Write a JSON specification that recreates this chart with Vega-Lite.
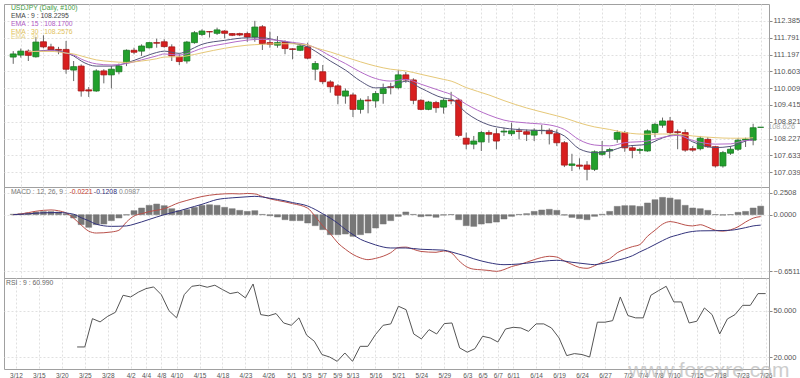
{
  "$schema": "https://vega.github.io/schema/vega-lite/v6.json",
  "padding": {"left": 3, "top": 3, "right": 0, "bottom": 0},
  "background": "white",
  "spacing": 0,
  "bounds": "flush",
  "resolve": {"scale": {"color": "independent"}},
  "config": {
    "view": {"stroke": "#a0a0a0", "strokeWidth": 1},
    "axis": {"gridColor": "#e0e0e0", "gridDash": [2, 2], "labelFont": "Liberation Sans", "labelColor": "#555555", "tickColor": "#888888", "domain": false, "labelOverlap": false, "labelFlush": false, "labelBound": false},
    "text": {"font": "Liberation Sans"}
  },
  "datasets": {
    "candles": [
      {"k":0,"o":111.11,"h":111.32,"l":110.87,"c":111.22},
      {"k":1,"o":111.18,"h":111.41,"l":111.09,"c":111.32},
      {"k":2,"o":111.32,"h":111.38,"l":110.97,"c":111.17},
      {"k":3,"o":111.12,"h":111.82,"l":111.09,"c":111.64},
      {"k":4,"o":111.65,"h":111.88,"l":111.42,"c":111.47},
      {"k":5,"o":111.47,"h":111.58,"l":111.30,"c":111.36},
      {"k":6,"o":111.38,"h":111.47,"l":111.21,"c":111.35},
      {"k":7,"o":111.38,"h":111.68,"l":110.52,"c":110.68},
      {"k":8,"o":110.65,"h":110.97,"l":110.26,"c":110.77},
      {"k":9,"o":110.79,"h":110.85,"l":109.71,"c":109.91},
      {"k":10,"o":109.95,"h":110.05,"l":109.70,"c":109.91},
      {"k":11,"o":109.91,"h":110.68,"l":109.88,"c":110.62},
      {"k":12,"o":110.62,"h":110.68,"l":110.18,"c":110.48},
      {"k":13,"o":110.48,"h":110.79,"l":110.00,"c":110.68},
      {"k":14,"o":110.59,"h":110.88,"l":110.50,"c":110.79},
      {"k":15,"o":110.91,"h":111.38,"l":110.79,"c":111.35},
      {"k":16,"o":111.35,"h":111.44,"l":111.21,"c":111.28},
      {"k":17,"o":111.32,"h":111.56,"l":111.15,"c":111.50},
      {"k":18,"o":111.44,"h":111.64,"l":111.41,"c":111.62},
      {"k":19,"o":111.62,"h":111.76,"l":111.44,"c":111.60},
      {"k":20,"o":111.65,"h":111.74,"l":111.44,"c":111.48},
      {"k":21,"o":111.47,"h":111.56,"l":110.97,"c":111.15},
      {"k":22,"o":111.11,"h":111.21,"l":110.83,"c":110.95},
      {"k":23,"o":110.97,"h":111.68,"l":110.88,"c":111.64},
      {"k":24,"o":111.62,"h":112.03,"l":111.58,"c":111.97},
      {"k":25,"o":111.91,"h":112.09,"l":111.85,"c":112.03},
      {"k":26,"o":112.01,"h":112.03,"l":111.80,"c":112.00},
      {"k":27,"o":111.95,"h":112.15,"l":111.89,"c":112.07},
      {"k":28,"o":112.03,"h":112.06,"l":111.77,"c":111.95},
      {"k":29,"o":111.94,"h":111.96,"l":111.85,"c":111.88},
      {"k":30,"o":111.94,"h":111.97,"l":111.85,"c":111.89},
      {"k":31,"o":111.94,"h":112.01,"l":111.65,"c":111.82},
      {"k":32,"o":111.82,"h":112.39,"l":111.65,"c":112.17},
      {"k":33,"o":112.18,"h":112.24,"l":111.36,"c":111.58},
      {"k":34,"o":111.62,"h":112.01,"l":111.44,"c":111.56},
      {"k":35,"o":111.53,"h":111.85,"l":111.44,"c":111.62},
      {"k":36,"o":111.64,"h":111.70,"l":111.21,"c":111.41},
      {"k":37,"o":111.40,"h":111.42,"l":111.03,"c":111.38},
      {"k":38,"o":111.35,"h":111.56,"l":111.32,"c":111.50},
      {"k":39,"o":111.47,"h":111.62,"l":111.03,"c":111.07},
      {"k":40,"o":110.68,"h":110.97,"l":110.29,"c":110.88},
      {"k":41,"o":110.59,"h":110.83,"l":110.15,"c":110.24},
      {"k":42,"o":110.23,"h":110.29,"l":109.85,"c":110.06},
      {"k":43,"o":110.09,"h":110.15,"l":109.44,"c":109.76},
      {"k":44,"o":109.73,"h":110.00,"l":109.46,"c":109.91},
      {"k":45,"o":109.77,"h":109.85,"l":108.99,"c":109.26},
      {"k":46,"o":109.26,"h":109.65,"l":109.11,"c":109.58},
      {"k":47,"o":109.59,"h":109.73,"l":109.12,"c":109.56},
      {"k":48,"o":109.56,"h":109.91,"l":109.32,"c":109.82},
      {"k":49,"o":109.82,"h":110.17,"l":109.46,"c":109.99},
      {"k":50,"o":110.06,"h":110.20,"l":109.79,"c":110.03},
      {"k":51,"o":110.03,"h":110.65,"l":109.97,"c":110.48},
      {"k":52,"o":110.48,"h":110.58,"l":110.20,"c":110.30},
      {"k":53,"o":110.30,"h":110.36,"l":109.44,"c":109.58},
      {"k":54,"o":109.58,"h":109.62,"l":109.23,"c":109.26},
      {"k":55,"o":109.26,"h":109.56,"l":109.23,"c":109.52},
      {"k":56,"o":109.50,"h":109.56,"l":109.14,"c":109.32},
      {"k":57,"o":109.34,"h":109.65,"l":109.11,"c":109.58},
      {"k":58,"o":109.59,"h":109.88,"l":109.44,"c":109.56},
      {"k":59,"o":109.59,"h":109.65,"l":108.28,"c":108.34},
      {"k":60,"o":108.24,"h":108.44,"l":107.85,"c":108.03},
      {"k":61,"o":108.03,"h":108.32,"l":107.85,"c":108.14},
      {"k":62,"o":108.11,"h":108.50,"l":107.79,"c":108.44},
      {"k":63,"o":108.44,"h":108.52,"l":108.08,"c":108.38},
      {"k":64,"o":108.40,"h":108.59,"l":107.85,"c":108.14},
      {"k":65,"o":108.46,"h":108.61,"l":108.32,"c":108.49},
      {"k":66,"o":108.40,"h":108.79,"l":108.32,"c":108.50},
      {"k":67,"o":108.50,"h":108.61,"l":108.20,"c":108.48},
      {"k":68,"o":108.47,"h":108.55,"l":108.14,"c":108.38},
      {"k":69,"o":108.35,"h":108.59,"l":108.14,"c":108.52},
      {"k":70,"o":108.51,"h":108.71,"l":108.38,"c":108.52},
      {"k":71,"o":108.52,"h":108.59,"l":108.02,"c":108.40},
      {"k":72,"o":108.40,"h":108.55,"l":107.96,"c":108.08},
      {"k":73,"o":108.08,"h":108.14,"l":107.22,"c":107.29},
      {"k":74,"o":107.28,"h":107.69,"l":107.08,"c":107.33},
      {"k":75,"o":107.29,"h":107.53,"l":107.14,"c":107.25},
      {"k":76,"o":107.29,"h":107.43,"l":106.75,"c":107.14},
      {"k":77,"o":107.14,"h":107.81,"l":107.08,"c":107.76},
      {"k":78,"o":107.67,"h":108.14,"l":107.61,"c":107.76},
      {"k":79,"o":107.79,"h":107.90,"l":107.53,"c":107.84},
      {"k":80,"o":108.20,"h":108.52,"l":108.08,"c":108.44},
      {"k":81,"o":108.44,"h":108.50,"l":107.76,"c":107.90},
      {"k":82,"o":107.90,"h":107.96,"l":107.53,"c":107.81},
      {"k":83,"o":107.81,"h":107.90,"l":107.69,"c":107.84},
      {"k":84,"o":107.79,"h":108.55,"l":107.76,"c":108.50},
      {"k":85,"o":108.44,"h":108.79,"l":108.28,"c":108.73},
      {"k":86,"o":108.70,"h":108.97,"l":108.61,"c":108.85},
      {"k":87,"o":108.85,"h":108.99,"l":108.38,"c":108.44},
      {"k":88,"o":108.47,"h":108.55,"l":107.85,"c":108.44},
      {"k":89,"o":108.44,"h":108.55,"l":107.76,"c":107.82},
      {"k":90,"o":107.87,"h":107.96,"l":107.76,"c":107.82},
      {"k":91,"o":107.87,"h":108.32,"l":107.81,"c":108.24},
      {"k":92,"o":108.20,"h":108.28,"l":107.90,"c":107.94},
      {"k":93,"o":107.94,"h":107.96,"l":107.20,"c":107.26},
      {"k":94,"o":107.26,"h":107.79,"l":107.20,"c":107.73},
      {"k":95,"o":107.71,"h":107.96,"l":107.65,"c":107.85},
      {"k":96,"o":107.85,"h":108.24,"l":107.79,"c":108.17},
      {"k":97,"o":108.17,"h":108.26,"l":107.93,"c":108.21},
      {"k":98,"o":108.17,"h":108.75,"l":107.99,"c":108.61},
      {"k":99,"o":108.626,"h":108.63,"l":108.62,"c":108.626}
    ],
    "ema": [
      {"k":2,"s":"e9","v":111.30},{"k":3,"s":"e9","v":111.31},{"k":5,"s":"e9","v":111.36},{"k":7,"s":"e9","v":111.25},{"k":8,"s":"e9","v":111.15},
      {"k":9,"s":"e9","v":110.97},{"k":11,"s":"e9","v":110.79},{"k":13,"s":"e9","v":110.79},{"k":15,"s":"e9","v":110.90},{"k":17,"s":"e9","v":111.09},
      {"k":19,"s":"e9","v":111.27},{"k":20,"s":"e9","v":111.32},{"k":22,"s":"e9","v":111.24},{"k":23,"s":"e9","v":111.32},{"k":25,"s":"e9","v":111.56},
      {"k":28,"s":"e9","v":111.70},{"k":31,"s":"e9","v":111.79},{"k":33,"s":"e9","v":111.79},{"k":35,"s":"e9","v":111.70},{"k":37,"s":"e9","v":111.60},
      {"k":39,"s":"e9","v":111.47},{"k":40,"s":"e9","v":111.32},{"k":42,"s":"e9","v":110.97},{"k":44,"s":"e9","v":110.65},{"k":46,"s":"e9","v":110.26},
      {"k":48,"s":"e9","v":110.02},{"k":50,"s":"e9","v":110.05},{"k":52,"s":"e9","v":110.26},{"k":54,"s":"e9","v":110.01},{"k":57,"s":"e9","v":109.66},
      {"k":58,"s":"e9","v":109.62},{"k":60,"s":"e9","v":109.14},{"k":63,"s":"e9","v":108.71},{"k":65,"s":"e9","v":108.60},{"k":68,"s":"e9","v":108.53},
      {"k":71,"s":"e9","v":108.50},{"k":73,"s":"e9","v":108.32},{"k":75,"s":"e9","v":107.86},{"k":77,"s":"e9","v":107.73},{"k":79,"s":"e9","v":107.79},
      {"k":81,"s":"e9","v":107.95},{"k":84,"s":"e9","v":108.03},{"k":86,"s":"e9","v":108.25},{"k":88,"s":"e9","v":108.38},{"k":90,"s":"e9","v":108.11},
      {"k":93,"s":"e9","v":107.91},{"k":95,"s":"e9","v":107.95},{"k":97,"s":"e9","v":108.14},{"k":98,"s":"e9","v":108.2295},
      {"k":2,"s":"e15","v":111.30},{"k":3,"s":"e15","v":111.31},{"k":5,"s":"e15","v":111.34},{"k":7,"s":"e15","v":111.25},{"k":8,"s":"e15","v":111.18},
      {"k":9,"s":"e15","v":111.04},{"k":11,"s":"e15","v":110.87},{"k":13,"s":"e15","v":110.83},{"k":15,"s":"e15","v":110.88},{"k":17,"s":"e15","v":111.01},
      {"k":19,"s":"e15","v":111.15},{"k":20,"s":"e15","v":111.22},{"k":22,"s":"e15","v":111.18},{"k":23,"s":"e15","v":111.23},{"k":25,"s":"e15","v":111.42},
      {"k":28,"s":"e15","v":111.58},{"k":31,"s":"e15","v":111.71},{"k":33,"s":"e15","v":111.74},{"k":35,"s":"e15","v":111.70},{"k":37,"s":"e15","v":111.63},
      {"k":39,"s":"e15","v":111.54},{"k":40,"s":"e15","v":111.44},{"k":42,"s":"e15","v":111.15},{"k":44,"s":"e15","v":110.88},{"k":46,"s":"e15","v":110.58},
      {"k":48,"s":"e15","v":110.35},{"k":50,"s":"e15","v":110.26},{"k":52,"s":"e15","v":110.32},{"k":54,"s":"e15","v":110.15},{"k":57,"s":"e15","v":109.88},
      {"k":58,"s":"e15","v":109.79},{"k":60,"s":"e15","v":109.44},{"k":63,"s":"e15","v":109.06},{"k":65,"s":"e15","v":108.88},{"k":68,"s":"e15","v":108.78},
      {"k":71,"s":"e15","v":108.71},{"k":73,"s":"e15","v":108.55},{"k":75,"s":"e15","v":108.18},{"k":77,"s":"e15","v":108.00},{"k":79,"s":"e15","v":107.97},
      {"k":81,"s":"e15","v":108.08},{"k":84,"s":"e15","v":108.14},{"k":86,"s":"e15","v":108.27},{"k":88,"s":"e15","v":108.34},{"k":90,"s":"e15","v":108.16},
      {"k":93,"s":"e15","v":108.03},{"k":95,"s":"e15","v":108.04},{"k":97,"s":"e15","v":108.16},{"k":98,"s":"e15","v":108.17},
      {"k":2,"s":"e30","v":111.30},{"k":3,"s":"e30","v":111.31},{"k":5,"s":"e30","v":111.31},{"k":7,"s":"e30","v":111.25},{"k":8,"s":"e30","v":111.22},
      {"k":9,"s":"e30","v":111.15},{"k":11,"s":"e30","v":111.01},{"k":13,"s":"e30","v":110.95},{"k":15,"s":"e30","v":110.92},{"k":17,"s":"e30","v":110.97},
      {"k":19,"s":"e30","v":111.05},{"k":20,"s":"e30","v":111.11},{"k":22,"s":"e30","v":111.12},{"k":23,"s":"e30","v":111.15},{"k":25,"s":"e30","v":111.26},
      {"k":28,"s":"e30","v":111.42},{"k":31,"s":"e30","v":111.53},{"k":33,"s":"e30","v":111.56},{"k":35,"s":"e30","v":111.58},{"k":37,"s":"e30","v":111.58},
      {"k":39,"s":"e30","v":111.54},{"k":40,"s":"e30","v":111.44},{"k":42,"s":"e30","v":111.29},{"k":44,"s":"e30","v":111.11},{"k":46,"s":"e30","v":110.94},
      {"k":48,"s":"e30","v":110.79},{"k":50,"s":"e30","v":110.68},{"k":52,"s":"e30","v":110.62},{"k":54,"s":"e30","v":110.50},{"k":57,"s":"e30","v":110.32},
      {"k":58,"s":"e30","v":110.26},{"k":60,"s":"e30","v":110.03},{"k":63,"s":"e30","v":109.77},{"k":65,"s":"e30","v":109.57},{"k":68,"s":"e30","v":109.31},
      {"k":71,"s":"e30","v":109.10},{"k":73,"s":"e30","v":108.96},{"k":75,"s":"e30","v":108.78},{"k":77,"s":"e30","v":108.64},{"k":79,"s":"e30","v":108.55},
      {"k":81,"s":"e30","v":108.44},{"k":84,"s":"e30","v":108.38},{"k":86,"s":"e30","v":108.39},{"k":88,"s":"e30","v":108.38},{"k":90,"s":"e30","v":108.32},
      {"k":93,"s":"e30","v":108.26},{"k":95,"s":"e30","v":108.24},{"k":97,"s":"e30","v":108.24},{"k":98,"s":"e30","v":108.2576}
    ],
    "hist": [
      {"k":0,"hv":0.005},{"k":1,"hv":0.01},{"k":2,"hv":0.02},{"k":3,"hv":0.031},{"k":4,"hv":0.035},
      {"k":5,"hv":0.035},{"k":6,"hv":0.03},{"k":7,"hv":0.01},{"k":8,"hv":-0.038},{"k":9,"hv":-0.115},
      {"k":10,"hv":-0.146},{"k":11,"hv":-0.115},{"k":12,"hv":-0.108},{"k":13,"hv":-0.069},{"k":14,"hv":-0.038},
      {"k":15,"hv":-0.004},{"k":16,"hv":0.046},{"k":17,"hv":0.077},{"k":18,"hv":0.108},{"k":19,"hv":0.123},
      {"k":20,"hv":0.104},{"k":21,"hv":0.069},{"k":22,"hv":0.046},{"k":23,"hv":0.058},{"k":24,"hv":0.085},
      {"k":25,"hv":0.108},{"k":26,"hv":0.115},{"k":27,"hv":0.108},{"k":28,"hv":0.085},{"k":29,"hv":0.069},
      {"k":30,"hv":0.05},{"k":31,"hv":0.038},{"k":32,"hv":0.046},{"k":33,"hv":0.003},{"k":34,"hv":-0.012},
      {"k":35,"hv":-0.027},{"k":36,"hv":-0.058},{"k":37,"hv":-0.069},{"k":38,"hv":-0.069},{"k":39,"hv":-0.096},
      {"k":40,"hv":-0.127},{"k":41,"hv":-0.173},{"k":42,"hv":-0.231},{"k":43,"hv":-0.231},{"k":44,"hv":-0.223},
      {"k":45,"hv":-0.25},{"k":46,"hv":-0.231},{"k":47,"hv":-0.212},{"k":48,"hv":-0.154},{"k":49,"hv":-0.108},
      {"k":50,"hv":-0.069},{"k":51,"hv":-0.02},{"k":52,"hv":0.031},{"k":53,"hv":0.003},{"k":54,"hv":-0.023},
      {"k":55,"hv":-0.015},{"k":56,"hv":-0.03},{"k":57,"hv":-0.005},{"k":58,"hv":0.002},{"k":59,"hv":-0.058},
      {"k":60,"hv":-0.127},{"k":61,"hv":-0.135},{"k":62,"hv":-0.108},{"k":63,"hv":-0.096},{"k":64,"hv":-0.085},
      {"k":65,"hv":-0.05},{"k":66,"hv":-0.019},{"k":67,"hv":0.003},{"k":68,"hv":0.012},{"k":69,"hv":0.038},
      {"k":70,"hv":0.054},{"k":71,"hv":0.062},{"k":72,"hv":0.05},{"k":73,"hv":-0.005},{"k":74,"hv":-0.031},
      {"k":75,"hv":-0.046},{"k":76,"hv":-0.058},{"k":77,"hv":-0.019},{"k":78,"hv":0.005},{"k":79,"hv":0.038},
      {"k":80,"hv":0.096},{"k":81,"hv":0.104},{"k":82,"hv":0.104},{"k":83,"hv":0.096},{"k":84,"hv":0.135},
      {"k":85,"hv":0.173},{"k":86,"hv":0.2},{"k":87,"hv":0.192},{"k":88,"hv":0.173},{"k":89,"hv":0.108},
      {"k":90,"hv":0.077},{"k":91,"hv":0.069},{"k":92,"hv":0.05},{"k":93,"hv":0.002},{"k":94,"hv":-0.005},
      {"k":95,"hv":0.002},{"k":96,"hv":0.027},{"k":97,"hv":0.038},{"k":98,"hv":0.077},{"k":99,"hv":0.0987}
    ],
    "macd": [
      {"k":0,"s":"m","v":0},{"k":1,"s":"m","v":0.008},{"k":3,"s":"m","v":0.04},{"k":5,"s":"m","v":0.055},{"k":6,"s":"m","v":0.045},{"k":7,"s":"m","v":0.02},
      {"k":8,"s":"m","v":-0.04},{"k":9,"s":"m","v":-0.12},{"k":10,"s":"m","v":-0.19},{"k":11,"s":"m","v":-0.212},{"k":13,"s":"m","v":-0.2},{"k":14,"s":"m","v":-0.18},
      {"k":15,"s":"m","v":-0.085},{"k":16,"s":"m","v":-0.015},{"k":17,"s":"m","v":0.012},{"k":18,"s":"m","v":0.035},{"k":20,"s":"m","v":0.069},{"k":22,"s":"m","v":0.14},
      {"k":23,"s":"m","v":0.165},{"k":25,"s":"m","v":0.21},{"k":27,"s":"m","v":0.235},{"k":29,"s":"m","v":0.243},{"k":30,"s":"m","v":0.24},{"k":31,"s":"m","v":0.245},
      {"k":32,"s":"m","v":0.24},{"k":33,"s":"m","v":0.21},{"k":34,"s":"m","v":0.183},{"k":36,"s":"m","v":0.148},{"k":37,"s":"m","v":0.128},{"k":39,"s":"m","v":0.075},
      {"k":40,"s":"m","v":-0.02},{"k":41,"s":"m","v":-0.13},{"k":42,"s":"m","v":-0.22},{"k":43,"s":"m","v":-0.327},{"k":44,"s":"m","v":-0.4},{"k":45,"s":"m","v":-0.46},
      {"k":46,"s":"m","v":-0.5},{"k":47,"s":"m","v":-0.52},{"k":48,"s":"m","v":-0.505},{"k":49,"s":"m","v":-0.48},{"k":50,"s":"m","v":-0.44},{"k":51,"s":"m","v":-0.38},
      {"k":52,"s":"m","v":-0.375},{"k":53,"s":"m","v":-0.4},{"k":54,"s":"m","v":-0.425},{"k":56,"s":"m","v":-0.435},{"k":57,"s":"m","v":-0.42},{"k":58,"s":"m","v":-0.44},
      {"k":59,"s":"m","v":-0.53},{"k":60,"s":"m","v":-0.6},{"k":61,"s":"m","v":-0.63},{"k":62,"s":"m","v":-0.637},{"k":63,"s":"m","v":-0.645},{"k":64,"s":"m","v":-0.655},
      {"k":65,"s":"m","v":-0.635},{"k":66,"s":"m","v":-0.6},{"k":67,"s":"m","v":-0.578},{"k":68,"s":"m","v":-0.55},{"k":69,"s":"m","v":-0.52},{"k":70,"s":"m","v":-0.495},
      {"k":71,"s":"m","v":-0.481},{"k":72,"s":"m","v":-0.49},{"k":73,"s":"m","v":-0.535},{"k":74,"s":"m","v":-0.575},{"k":75,"s":"m","v":-0.61},{"k":76,"s":"m","v":-0.62},
      {"k":77,"s":"m","v":-0.59},{"k":78,"s":"m","v":-0.55},{"k":79,"s":"m","v":-0.51},{"k":80,"s":"m","v":-0.44},{"k":81,"s":"m","v":-0.4},{"k":82,"s":"m","v":-0.37},
      {"k":83,"s":"m","v":-0.345},{"k":84,"s":"m","v":-0.25},{"k":85,"s":"m","v":-0.18},{"k":86,"s":"m","v":-0.11},{"k":87,"s":"m","v":-0.08},{"k":88,"s":"m","v":-0.095},
      {"k":89,"s":"m","v":-0.12},{"k":90,"s":"m","v":-0.13},{"k":91,"s":"m","v":-0.116},{"k":92,"s":"m","v":-0.145},{"k":93,"s":"m","v":-0.18},{"k":94,"s":"m","v":-0.19},
      {"k":95,"s":"m","v":-0.175},{"k":96,"s":"m","v":-0.14},{"k":97,"s":"m","v":-0.085},{"k":98,"s":"m","v":-0.04},{"k":99,"s":"m","v":-0.0221},
      {"k":0,"s":"sig","v":0},{"k":2,"s":"sig","v":0.01},{"k":4,"s":"sig","v":0.022},{"k":6,"s":"sig","v":0.025},{"k":8,"s":"sig","v":0.005},{"k":9,"s":"sig","v":-0.035},
      {"k":10,"s":"sig","v":-0.07},{"k":11,"s":"sig","v":-0.11},{"k":13,"s":"sig","v":-0.135},{"k":15,"s":"sig","v":-0.13},{"k":16,"s":"sig","v":-0.11},{"k":18,"s":"sig","v":-0.055},
      {"k":20,"s":"sig","v":0},{"k":22,"s":"sig","v":0.045},{"k":24,"s":"sig","v":0.095},{"k":25,"s":"sig","v":0.12},{"k":27,"s":"sig","v":0.175},{"k":29,"s":"sig","v":0.195},
      {"k":31,"s":"sig","v":0.207},{"k":32,"s":"sig","v":0.212},{"k":34,"s":"sig","v":0.19},{"k":36,"s":"sig","v":0.16},{"k":37,"s":"sig","v":0.14},{"k":39,"s":"sig","v":0.1},
      {"k":40,"s":"sig","v":0.06},{"k":41,"s":"sig","v":0.01},{"k":42,"s":"sig","v":-0.04},{"k":43,"s":"sig","v":-0.1},{"k":44,"s":"sig","v":-0.17},{"k":45,"s":"sig","v":-0.23},
      {"k":46,"s":"sig","v":-0.285},{"k":47,"s":"sig","v":-0.32},{"k":48,"s":"sig","v":-0.35},{"k":50,"s":"sig","v":-0.385},{"k":52,"s":"sig","v":-0.385},{"k":54,"s":"sig","v":-0.4},
      {"k":57,"s":"sig","v":-0.41},{"k":58,"s":"sig","v":-0.43},{"k":59,"s":"sig","v":-0.455},{"k":60,"s":"sig","v":-0.48},{"k":61,"s":"sig","v":-0.51},{"k":62,"s":"sig","v":-0.535},
      {"k":63,"s":"sig","v":-0.555},{"k":65,"s":"sig","v":-0.578},{"k":67,"s":"sig","v":-0.57},{"k":69,"s":"sig","v":-0.55},{"k":70,"s":"sig","v":-0.54},{"k":72,"s":"sig","v":-0.527},
      {"k":74,"s":"sig","v":-0.55},{"k":76,"s":"sig","v":-0.57},{"k":77,"s":"sig","v":-0.578},{"k":78,"s":"sig","v":-0.565},{"k":79,"s":"sig","v":-0.55},{"k":80,"s":"sig","v":-0.53},
      {"k":81,"s":"sig","v":-0.505},{"k":82,"s":"sig","v":-0.475},{"k":83,"s":"sig","v":-0.43},{"k":84,"s":"sig","v":-0.39},{"k":86,"s":"sig","v":-0.3},{"k":87,"s":"sig","v":-0.26},
      {"k":88,"s":"sig","v":-0.235},{"k":89,"s":"sig","v":-0.21},{"k":91,"s":"sig","v":-0.187},{"k":93,"s":"sig","v":-0.185},{"k":95,"s":"sig","v":-0.18},{"k":96,"s":"sig","v":-0.168},
      {"k":97,"s":"sig","v":-0.15},{"k":98,"s":"sig","v":-0.13},{"k":99,"s":"sig","v":-0.1208}
    ],
    "rsi": [
      {"k":9,"r":26.5},{"k":10,"r":26.5},{"k":11,"r":44.8},{"k":12,"r":42.7},{"k":13,"r":46.3},{"k":14,"r":48.9},
      {"k":15,"r":59.9},{"k":16,"r":58.8},{"k":17,"r":61.9},{"k":18,"r":64.2},{"k":19,"r":65.3},{"k":20,"r":60.3},
      {"k":21,"r":50},{"k":22,"r":45.3},{"k":23,"r":60.3},{"k":24,"r":65.7},{"k":25,"r":66.4},{"k":26,"r":65.1},
      {"k":27,"r":66.4},{"k":28,"r":63.6},{"k":29,"r":61},{"k":30,"r":61.9},{"k":31,"r":58.2},{"k":32,"r":67.2},
      {"k":33,"r":47.4},{"k":34,"r":46.6},{"k":35,"r":48.1},{"k":36,"r":42},{"k":37,"r":40.5},{"k":38,"r":45.3},
      {"k":39,"r":34.1},{"k":40,"r":30.2},{"k":41,"r":21.6},{"k":42,"r":20},{"k":43,"r":17.2},{"k":44,"r":22.6},
      {"k":45,"r":17.2},{"k":46,"r":26.9},{"k":47,"r":26.9},{"k":48,"r":34.5},{"k":49,"r":40.5},{"k":50,"r":41.4},
      {"k":51,"r":52.8},{"k":52,"r":50.6},{"k":53,"r":34.9},{"k":54,"r":31.7},{"k":55,"r":37.7},{"k":56,"r":34.9},
      {"k":57,"r":41.6},{"k":58,"r":42},{"k":59,"r":25.9},{"k":60,"r":23.1},{"k":61,"r":25.4},{"k":62,"r":33.4},
      {"k":63,"r":32.3},{"k":64,"r":29.7},{"k":65,"r":38.1},{"k":66,"r":39.2},{"k":67,"r":38.8},{"k":68,"r":36.6},
      {"k":69,"r":41.4},{"k":70,"r":41.4},{"k":71,"r":38.8},{"k":72,"r":32.3},{"k":73,"r":20.9},{"k":74,"r":22.2},
      {"k":75,"r":21.6},{"k":76,"r":20},{"k":77,"r":42.5},{"k":78,"r":42.5},{"k":79,"r":43.5},{"k":80,"r":58.8},
      {"k":81,"r":46.8},{"k":82,"r":45.3},{"k":83,"r":45.3},{"k":84,"r":59.9},{"k":85,"r":62.9},{"k":86,"r":65.7},
      {"k":87,"r":55.6},{"k":88,"r":55.6},{"k":89,"r":42},{"k":90,"r":43.1},{"k":91,"r":51.7},{"k":92,"r":47.4},
      {"k":93,"r":34.9},{"k":94,"r":44.6},{"k":95,"r":47.4},{"k":96,"r":53.4},{"k":97,"r":53.4},{"k":98,"r":60.99},
      {"k":99,"r":60.99}
    ],
    "mainText": [
      {"k":-0.3,"v":112.763,"t":"USDJPY (Daily, #100)","col":"#3f9c3f"},
      {"k":-0.3,"v":112.48,"t":"EMA : 9 : 108.2295","col":"#444444"},
      {"k":-0.3,"v":112.208,"t":"EMA : 15 : 108.1700","col":"#b05ac4"},
      {"k":-0.3,"v":111.936,"t":"EMA : 30 : 108.2576","col":"#e2c15a"},
      {"k":-0.3,"v":111.759,"t":"EMA : 30","col":"#e9d488"}
    ],
    "lastPrice": [{"k":99.44,"v":108.626,"t":"108.626"}],
    "macdText": [
      {"k":-0.3,"v":0.243,"t":"MACD : 12, 26, 9 :","col":"#777777"},
      {"k":7.45,"v":0.243,"t":"-0.0221","col":"#c0392b"},
      {"k":10.68,"v":0.243,"t":"-0.1208","col":"#2e2e7a"},
      {"k":14.0,"v":0.243,"t":"0.0987","col":"#888888"}
    ],
    "rsiText": [
      {"k":-0.3,"v":66.8,"t":"RSI : 9 : 60.990","col":"#666666"}
    ],
    "mark": [{"k":91.6,"v":7.2,"t":"www.forexre.com"}]
  },
  "vconcat": [
    {
      "width": 765,
      "height": 183,
      "encoding": {
        "x": {"field": "k", "type": "quantitative", "title": null, "scale": {"domain": [-0.56, 99.44], "nice": false, "zero": false},
              "axis": {"values": [1,4,7,10,13,16,18,20,22,25,28,31,34,37,39,41,43,45,48,51,54,57,60,62,64,66,69,72,75,78,81,83,85,87,90,93,96,99], "labels": false, "ticks": false, "grid": true, "domain": false, "title": null}}
      },
      "layer": [
        {
          "data": {"name": "candles"},
          "mark": {"type": "rule", "color": "#666666", "strokeWidth": 1},
          "encoding": {
            "y": {"field": "l", "type": "quantitative", "title": null, "scale": {"domain": [106.515, 112.986], "nice": false, "zero": false},
                  "axis": {"orient": "right", "values": [107.039,107.633,108.227,108.821,109.415,110.009,110.603,111.197,111.791,112.385], "format": ".3f", "grid": true, "tickSize": 3, "labelPadding": 1, "labelFontSize": 7.5, "domain": false, "title": null, "labelOverlap": false, "labelFlush": false}},
            "y2": {"field": "h"}
          }
        },
        {
          "data": {"name": "candles"},
          "mark": {"type": "bar", "size": 6, "strokeWidth": 0.8},
          "encoding": {
            "y": {"field": "o", "type": "quantitative", "title": null,
                  "axis": {"orient": "right", "values": [107.039,107.633,108.227,108.821,109.415,110.009,110.603,111.197,111.791,112.385], "format": ".3f", "grid": true, "tickSize": 3, "labelPadding": 1, "labelFontSize": 7.5, "domain": false, "title": null, "labelOverlap": false, "labelFlush": false}},
            "y2": {"field": "c"},
            "color": {"condition": {"test": "datum.c >= datum.o", "value": "#22a02c"}, "value": "#d81f1f"},
            "stroke": {"condition": {"test": "datum.c >= datum.o", "value": "#17781f"}, "value": "#a51616"}
          }
        },
        {
          "data": {"name": "ema"},
          "mark": {"type": "line", "strokeWidth": 1, "interpolate": "monotone"},
          "encoding": {
            "y": {"field": "v", "type": "quantitative", "title": null,
                  "axis": {"orient": "right", "values": [107.039,107.633,108.227,108.821,109.415,110.009,110.603,111.197,111.791,112.385], "format": ".3f", "grid": true, "tickSize": 3, "labelPadding": 1, "labelFontSize": 7.5, "domain": false, "title": null, "labelOverlap": false, "labelFlush": false}},
            "detail": {"field": "s", "type": "nominal"},
            "order": {"field": "k", "type": "quantitative"},
            "color": {"field": "s", "type": "nominal", "legend": null, "scale": {"domain": ["e30", "e15", "e9"], "range": ["#e6c878", "#b46cc8", "#55557a"]}}
          }
        },
        {
          "data": {"name": "mainText"},
          "mark": {"type": "text", "align": "left", "baseline": "alphabetic", "fontSize": 6.8},
          "encoding": {
            "y": {"field": "v", "type": "quantitative", "title": null,
                  "axis": {"orient": "right", "values": [107.039,107.633,108.227,108.821,109.415,110.009,110.603,111.197,111.791,112.385], "format": ".3f", "grid": true, "tickSize": 3, "labelPadding": 1, "labelFontSize": 7.5, "domain": false, "title": null, "labelOverlap": false, "labelFlush": false}},
            "text": {"field": "t"},
            "color": {"field": "col", "type": "nominal", "scale": null}
          }
        },
        {
          "data": {"name": "lastPrice"},
          "mark": {"type": "text", "align": "left", "baseline": "middle", "fontSize": 7.5, "dx": 4, "color": "#aaaaaa"},
          "encoding": {
            "y": {"field": "v", "type": "quantitative", "title": null,
                  "axis": {"orient": "right", "values": [107.039,107.633,108.227,108.821,109.415,110.009,110.603,111.197,111.791,112.385], "format": ".3f", "grid": true, "tickSize": 3, "labelPadding": 1, "labelFontSize": 7.5, "domain": false, "title": null, "labelOverlap": false, "labelFlush": false}},
            "text": {"field": "t"}
          }
        }
      ]
    },
    {
      "width": 765,
      "height": 91,
      "encoding": {
        "x": {"field": "k", "type": "quantitative", "title": null, "scale": {"domain": [-0.56, 99.44], "nice": false, "zero": false},
              "axis": {"values": [1,4,7,10,13,16,18,20,22,25,28,31,34,37,39,41,43,45,48,51,54,57,60,62,64,66,69,72,75,78,81,83,85,87,90,93,96,99], "labels": false, "ticks": false, "grid": true, "domain": false, "title": null}}
      },
      "layer": [
        {
          "data": {"name": "hist"},
          "mark": {"type": "bar", "size": 6, "color": "#777777", "stroke": "#777777", "strokeWidth": 0.5},
          "encoding": {
            "y": {"field": "hv", "type": "quantitative", "title": null, "scale": {"domain": [-0.732, 0.32], "nice": false, "zero": false},
                  "axis": {"orient": "right", "values": [0.2508, 0, -0.6511], "format": ".4f", "grid": true, "tickSize": 3, "labelPadding": 1, "labelFontSize": 7.5, "domain": false, "title": null, "labelOverlap": false, "labelFlush": false}},
            "y2": {"datum": 0}
          }
        },
        {
          "data": {"name": "macd"},
          "mark": {"type": "line", "strokeWidth": 1, "interpolate": "monotone"},
          "encoding": {
            "y": {"field": "v", "type": "quantitative", "title": null,
                  "axis": {"orient": "right", "values": [0.2508, 0, -0.6511], "format": ".4f", "grid": true, "tickSize": 3, "labelPadding": 1, "labelFontSize": 7.5, "domain": false, "title": null, "labelOverlap": false, "labelFlush": false}},
            "detail": {"field": "s", "type": "nominal"},
            "order": {"field": "k", "type": "quantitative"},
            "color": {"field": "s", "type": "nominal", "legend": null, "scale": {"domain": ["sig", "m"], "range": ["#34347c", "#b9504a"]}}
          }
        },
        {
          "data": {"name": "macdText"},
          "mark": {"type": "text", "align": "left", "baseline": "alphabetic", "fontSize": 6.8},
          "encoding": {
            "y": {"field": "v", "type": "quantitative", "title": null,
                  "axis": {"orient": "right", "values": [0.2508, 0, -0.6511], "format": ".4f", "grid": true, "tickSize": 3, "labelPadding": 1, "labelFontSize": 7.5, "domain": false, "title": null, "labelOverlap": false, "labelFlush": false}},
            "text": {"field": "t"},
            "color": {"field": "col", "type": "nominal", "scale": null}
          }
        }
      ]
    },
    {
      "width": 765,
      "height": 91,
      "encoding": {
        "x": {"field": "k", "type": "quantitative", "title": null, "scale": {"domain": [-0.56, 99.44], "nice": false, "zero": false},
              "axis": {"values": [1,4,7,10,13,16,18,20,22,25,28,31,34,37,39,41,43,45,48,51,54,57,60,62,64,66,69,72,75,78,81,83,85,87,90,93,96,99],
                       "labelExpr": "['3/12','3/15','3/20','3/25','3/28','4/2','4/4','4/8','4/10','4/15','4/18','4/23','4/26','5/1','5/3','5/7','5/9','5/13','5/16','5/21','5/24','5/29','6/3','6/5','6/7','6/11','6/14','6/19','6/24','6/27','7/2','7/4','7/8','7/10','7/15','7/18','7/23','7/26'][indexof([1,4,7,10,13,16,18,20,22,25,28,31,34,37,39,41,43,45,48,51,54,57,60,62,64,66,69,72,75,78,81,83,85,87,90,93,96,99], datum.value)]",
                       "labelFontSize": 6.5, "ticks": false, "labelPadding": 3, "grid": true, "domain": false, "title": null, "labelOverlap": false, "labelFlush": false}}
      },
      "layer": [
        {
          "data": {"name": "rsi"},
          "mark": {"type": "line", "color": "#555555", "strokeWidth": 1},
          "encoding": {
            "y": {"field": "r", "type": "quantitative", "title": null, "scale": {"domain": [12.25, 71.07], "nice": false, "zero": false},
                  "axis": {"orient": "right", "values": [50, 20], "format": ".3f", "grid": true, "tickSize": 3, "labelPadding": 1, "labelFontSize": 7.5, "domain": false, "title": null, "labelOverlap": false, "labelFlush": false}}
          }
        },
        {
          "data": {"name": "rsiText"},
          "mark": {"type": "text", "align": "left", "baseline": "alphabetic", "fontSize": 6.8},
          "encoding": {
            "y": {"field": "v", "type": "quantitative", "title": null,
                  "axis": {"orient": "right", "values": [50, 20], "format": ".3f", "grid": true, "tickSize": 3, "labelPadding": 1, "labelFontSize": 7.5, "domain": false, "title": null, "labelOverlap": false, "labelFlush": false}},
            "text": {"field": "t"},
            "color": {"field": "col", "type": "nominal", "scale": null}
          }
        },
        {
          "data": {"name": "mark"},
          "mark": {"type": "text", "align": "center", "baseline": "alphabetic", "fontSize": 21, "color": "#b8b8b8", "opacity": 0.7},
          "encoding": {
            "y": {"field": "v", "type": "quantitative", "title": null,
                  "axis": {"orient": "right", "values": [50, 20], "format": ".3f", "grid": true, "tickSize": 3, "labelPadding": 1, "labelFontSize": 7.5, "domain": false, "title": null, "labelOverlap": false, "labelFlush": false}},
            "text": {"field": "t"}
          }
        }
      ]
    }
  ]
}
